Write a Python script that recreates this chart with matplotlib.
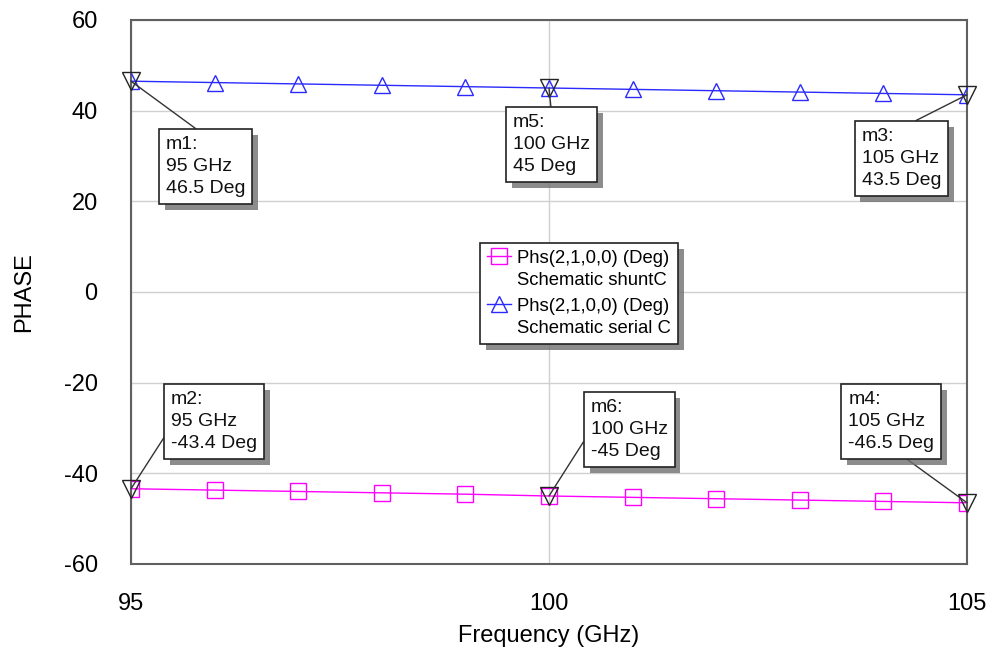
import matplotlib
matplotlib.use('Agg')
import matplotlib.pyplot as plt
import matplotlib.patheffects as pe
from matplotlib.legend_handler import HandlerLine2D

# data
freq = [95, 96, 97, 98, 99, 100, 101, 102, 103, 104, 105]
phs_shunt = [-43.4, -43.7, -44.0, -44.3, -44.6, -45.0, -45.3, -45.6, -45.9, -46.2, -46.5]
phs_serial = [46.5, 46.2, 45.9, 45.6, 45.3, 45.0, 44.7, 44.4, 44.1, 43.8, 43.5]

marker_names = ['m1', 'm5', 'm3', 'm2', 'm6', 'm4']
marker_freq = [95, 100, 105, 95, 100, 105]
marker_val = [46.5, 45, 43.5, -43.4, -45, -46.5]
# text box anchor (upper-left) and where the leader line leaves the box
marker_text_pos = [(95.42, 34.4), (99.57, 39.3), (103.74, 36.2),
                   (95.48, -21.8), (100.50, -23.6), (103.58, -21.8)]
marker_relpos = [(0.5, 1), (0.5, 1), (0.5, 1), (0, 0.42), (0, 0.49), (0.57, 0)]

plt.rcParams['font.family'] = ['Liberation Sans', 'DejaVu Sans']
plt.rcParams['axes.unicode_minus'] = False

fig = plt.figure(figsize=(9.93, 6.52), dpi=100)
ax = fig.add_axes([131/993, 1 - 564/652, 836/993, 544/652])

ax.plot(freq, phs_shunt, color='#ff00ff', lw=1, marker='s', ms=11,
        mfc='none', mec='#ff00ff', mew=1,
        label='Phs(2,1,0,0) (Deg)\nSchematic shuntC', zorder=3)
ax.plot(freq, phs_serial, color='#2a2aff', lw=1, marker='^', ms=11,
        mfc='none', mec='#2a2aff', mew=1,
        label='Phs(2,1,0,0) (Deg)\nSchematic serial C', zorder=3)

shadow = [pe.withSimplePatchShadow(offset=(4, -4), shadow_rgbFace='#707070', alpha=0.8)]

for name, f, v, tp, rp in zip(marker_names, marker_freq, marker_val, marker_text_pos, marker_relpos):
    ax.plot([f], [v], marker='v', ms=13, mfc='none', mec='#222222', mew=1,
            ls='none', zorder=5, clip_on=False)
    fstr = '%g GHz' % f
    txt = '%s:\n%s\n%g Deg' % (name, fstr, v)
    ann = ax.annotate(txt, xy=(f, v), xytext=tp, ha='left', va='top',
                      fontsize=14, color='#111111', zorder=6, linespacing=1.4,
                      bbox=dict(boxstyle='square,pad=0.35', fc='white', ec='#222222', lw=1.2),
                      arrowprops=dict(arrowstyle='-', color='#333333', lw=1,
                                      shrinkA=0, shrinkB=0, relpos=rp),
                      annotation_clip=False)
    ann.get_bbox_patch().set_path_effects(shadow)


class UpHandler(HandlerLine2D):
    # put the legend sample on the first line of the two-line label
    def create_artists(self, legend, orig_handle, xdescent, ydescent,
                       width, height, fontsize, trans):
        arts = super().create_artists(legend, orig_handle, xdescent, ydescent - 20,
                                      width, height, fontsize, trans)
        return arts


h_list, l_list = ax.get_legend_handles_labels()
leg = ax.legend(h_list, l_list, loc='upper left',
                bbox_to_anchor=(480/993, 1 - 243/652), bbox_transform=fig.transFigure,
                borderaxespad=0, fontsize=13.3, frameon=True, fancybox=False,
                handlelength=1.3, handletextpad=0.3, labelspacing=0.5,
                borderpad=0.4, numpoints=1,
                handler_map={h: UpHandler() for h in h_list})
for t in leg.get_texts():
    t.set_linespacing(1.35)
leg.get_frame().set_edgecolor('#222222')
leg.get_frame().set_linewidth(1.2)
leg.get_frame().set_alpha(1)
leg.get_frame().set_path_effects(shadow)
leg.set_zorder(7)

ax.set_xlim(95, 105)
ax.set_ylim(-60, 60)
ax.set_xticks([95, 100, 105])
ax.set_yticks([-60, -40, -20, 0, 20, 40, 60])
ax.tick_params(axis='both', length=0, labelsize=17)
ax.tick_params(axis='y', pad=24)
ax.tick_params(axis='x', pad=21)
ax.grid(True, color='#d0d0d0', lw=1)
ax.set_axisbelow(True)
for s in ax.spines.values():
    s.set_color('#606060')
    s.set_linewidth(1.5)

ax.set_xlabel('Frequency (GHz)', fontsize=17)
ax.set_ylabel('PHASE', fontsize=17)
ax.xaxis.set_label_coords(0.5, -0.112)
ax.yaxis.set_label_coords(-0.115, 0.5)

fig.savefig('out.png', dpi=100, facecolor='white')
